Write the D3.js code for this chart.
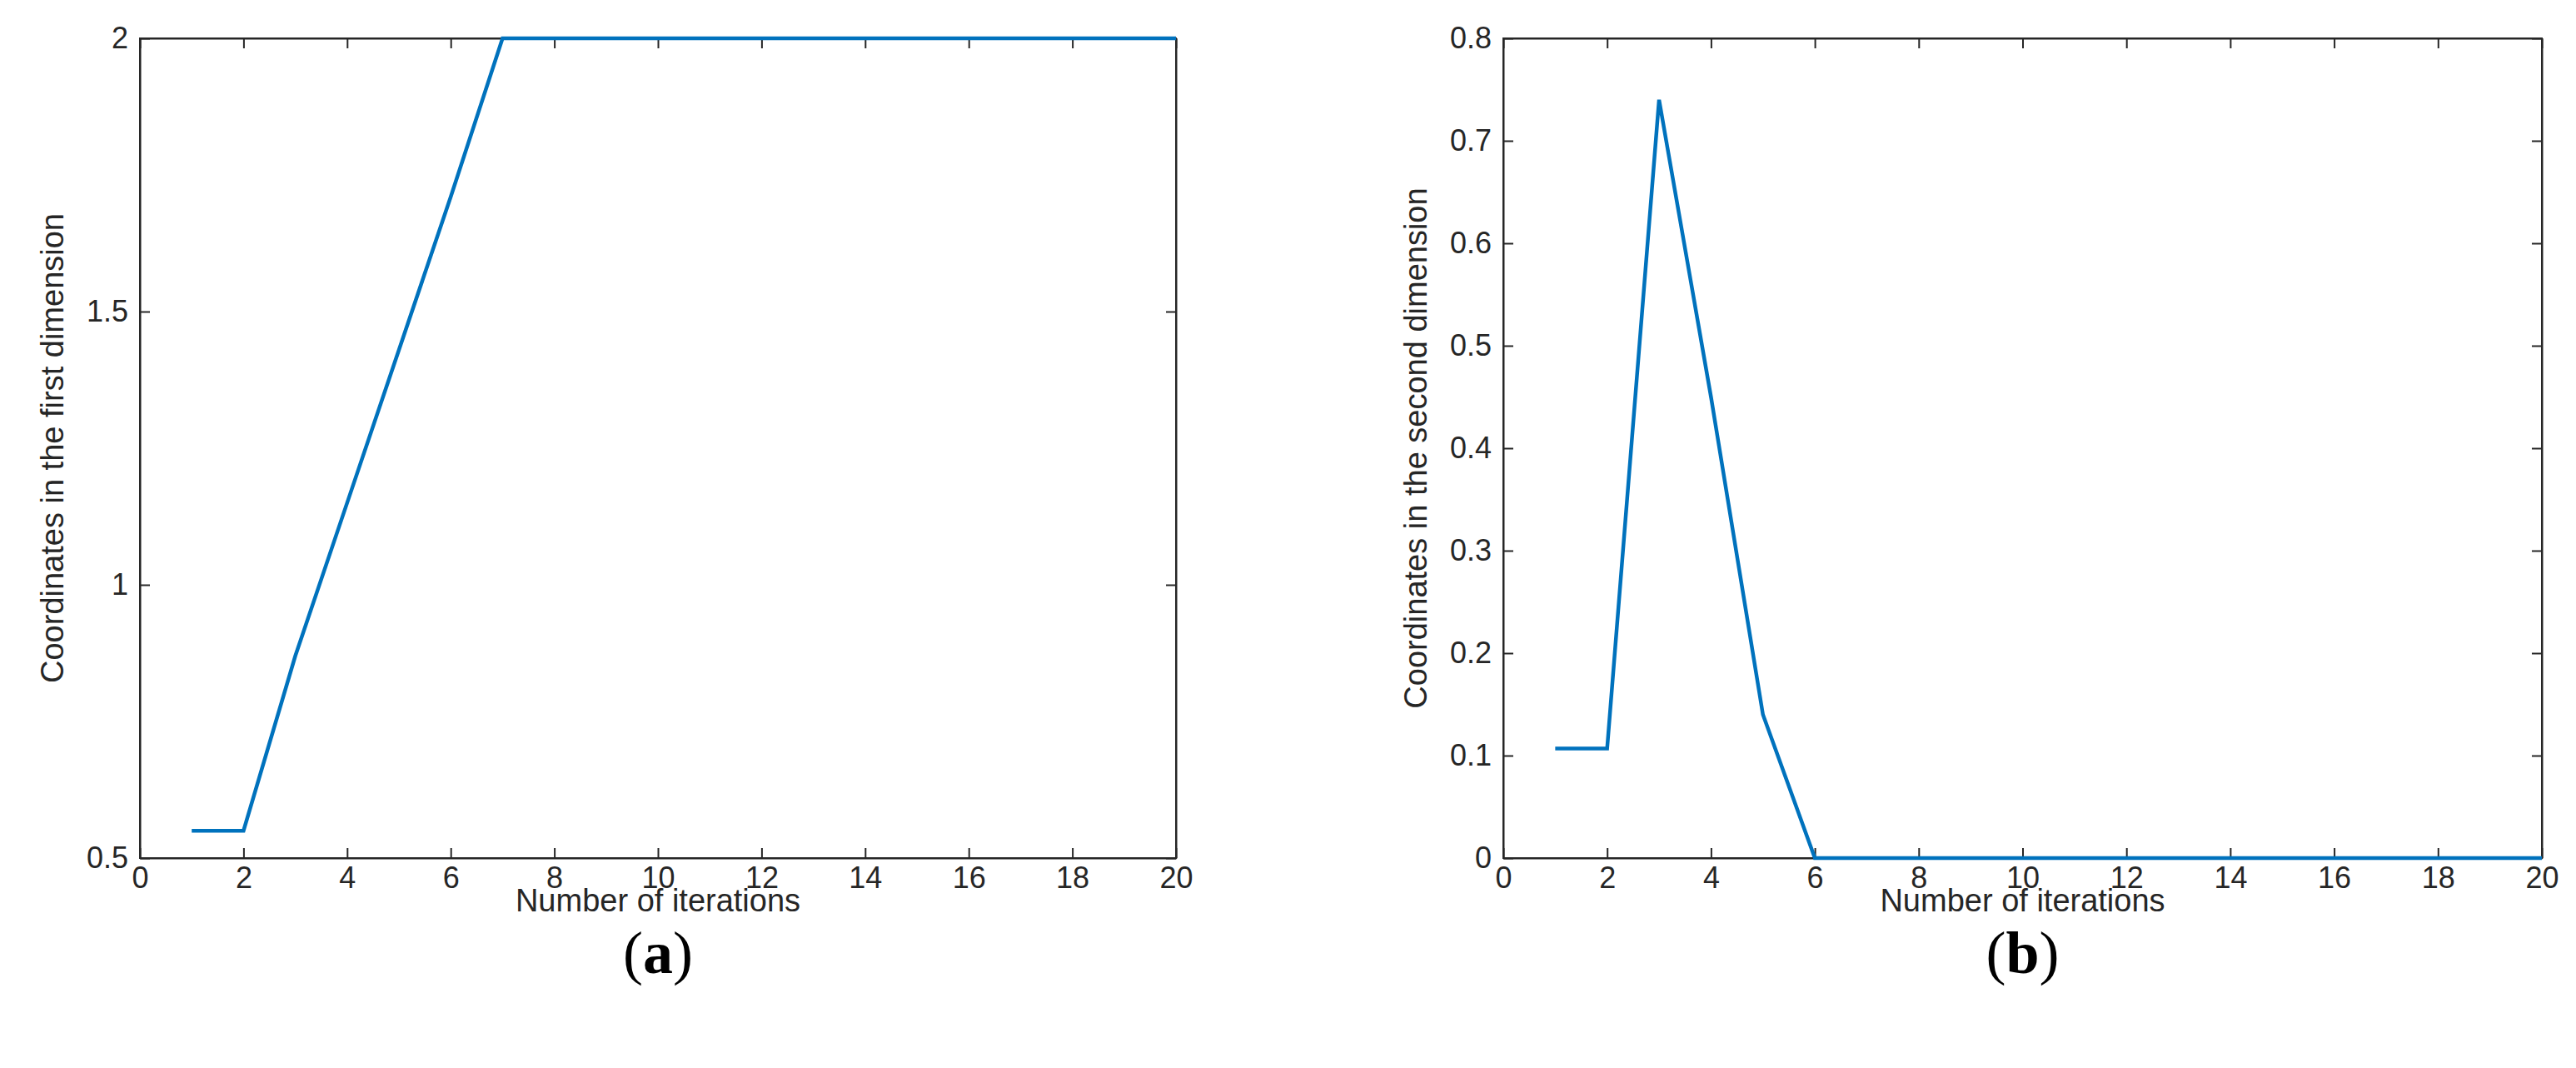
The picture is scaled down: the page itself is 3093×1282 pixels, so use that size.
<!DOCTYPE html>
<html><head><meta charset="utf-8">
<script src="https://cdn.jsdelivr.net/npm/d3@7"></script>
<style>body{margin:0;background:#fff}svg{display:block}</style>
</head><body>
<script>
const iterations = d3.range(1, 21);
const firstDim = [0.55,0.55,0.87,1.15,1.43,1.71,2,2,2,2,2,2,2,2,2,2,2,2,2,2];
const secondDim = [0.107,0.107,0.74,0.45,0.14,0,0,0,0,0,0,0,0,0,0,0,0,0,0,0];
const xTicks = d3.range(0, 21, 2);
const yTicksA = [0.5, 1, 1.5, 2];
const yTicksB = d3.range(0, 0.81, 0.1);

const svg = d3.select("body").append("svg").attr("width", 3093).attr("height", 1282);

function panel(x0, x1, values, yDomain, yTicks, fmt, ylabel, cap) {
  const top = 46, bottom = 1030;
  const x = d3.scaleLinear().domain([0, 20]).range([x0, x1]);
  const y = d3.scaleLinear().domain(yDomain).range([bottom, top]);
  const g = svg.append("g").style("font-family", "Arial, 'Liberation Sans', sans-serif");
  const tl = 12;
  const ax = (sel) => sel.selectAll("text").attr("fill", "#262626").style("font-size", "36px");
  g.append("g").attr("transform", `translate(0,${bottom})`)
    .call(d3.axisBottom(x).tickValues(xTicks).tickSizeInner(-tl).tickSizeOuter(0).tickPadding(10))
    .call(ax);
  g.append("g").attr("transform", `translate(0,${top})`)
    .call(d3.axisTop(x).tickValues(xTicks).tickSizeInner(-tl).tickSizeOuter(0).tickFormat(""));
  g.append("g").attr("transform", `translate(${x0},0)`)
    .call(d3.axisLeft(y).tickValues(yTicks).tickFormat(fmt).tickSizeInner(-tl).tickSizeOuter(0).tickPadding(14))
    .call(ax);
  g.append("g").attr("transform", `translate(${x1},0)`)
    .call(d3.axisRight(y).tickValues(yTicks).tickSizeInner(-tl).tickSizeOuter(0).tickFormat(""));
  g.selectAll(".domain, .tick line").attr("stroke", "#262626").attr("stroke-width", 2);
  g.append("rect").attr("x", x0).attr("y", top).attr("width", x1 - x0).attr("height", bottom - top)
    .attr("fill", "none").attr("stroke", "#262626").attr("stroke-width", 2);
  g.append("path").datum(values)
    .attr("d", d3.line().x((d, i) => x(iterations[i])).y(d => y(d)))
    .attr("fill", "none").attr("stroke", "#0072BD").attr("stroke-width", 4.5);
  g.append("text").attr("x", (x0 + x1) / 2).attr("y", 1094).attr("text-anchor", "middle")
    .attr("fill", "#262626").style("font-size", "38px").text("Number of iterations");
  g.append("text").attr("transform", `translate(${x0 - 92},${(top + bottom) / 2}) rotate(-90)`)
    .attr("text-anchor", "middle").attr("fill", "#262626").style("font-size", "38px").text(ylabel);
  const c = svg.append("text").attr("x", (x0 + x1) / 2).attr("y", 1168).attr("text-anchor", "middle")
    .style("font-family", "'Liberation Serif', 'DejaVu Serif', serif").style("font-size", "72px").attr("fill", "#000");
  c.append("tspan").text("(");
  c.append("tspan").attr("font-weight", "bold").text(cap);
  c.append("tspan").text(")");
}

panel(168, 1412, firstDim, [0.5, 2], yTicksA, d3.format(""), "Coordinates in the first dimension", "a");
panel(1805, 3052, secondDim, [0, 0.8], yTicksB, d => d === 0 ? "0" : d3.format(".1f")(d), "Coordinates in the second dimension", "b");
</script>
</body></html>
